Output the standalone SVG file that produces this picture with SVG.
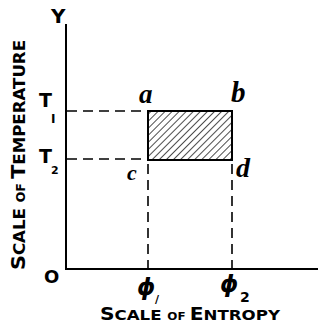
<svg xmlns="http://www.w3.org/2000/svg" width="321" height="324" viewBox="0 0 321 324">
<style>
.ax{stroke:#000;stroke-width:2;fill:none}
.ds{stroke:#000;stroke-width:1.6;fill:none;stroke-dasharray:10,6}
.lb{font-family:"DejaVu Sans","Liberation Sans",sans-serif;font-weight:bold;fill:#000}
.it{font-family:"Liberation Serif",serif;font-style:italic;font-weight:bold;fill:#000}
.ph{font-family:"DejaVu Sans",sans-serif;font-style:oblique;font-weight:bold;fill:#000}
</style>
<defs>
<pattern id="hatch" patternUnits="userSpaceOnUse" width="5" height="5" patternTransform="rotate(45)">
<line x1="0" y1="0" x2="0" y2="5" stroke="#000" stroke-width="1.4"/>
</pattern>
</defs>
<g id="connectors">
<line class="ax" x1="66" y1="24" x2="66" y2="270"/>
<line class="ax" x1="65" y1="269" x2="318" y2="269"/>
<line class="ds" x1="67" y1="111" x2="148" y2="111"/>
<line class="ds" x1="67" y1="159" x2="148" y2="159" stroke-dasharray="10,6,10,6,10,6,10,5,3,5"/>
<line class="ds" x1="148" y1="164" x2="148" y2="268"/>
<line class="ds" x1="232" y1="164" x2="232" y2="268"/>
</g>
<g id="rect">
<rect x="148" y="111" width="84" height="49" fill="url(#hatch)" stroke="#000" stroke-width="2"/>
</g>
<g id="labels">
<text class="lb" x="51" y="23" font-size="20">Y</text>
<text class="lb" x="39" y="107" font-size="19">T</text>
<text class="lb" x="51" y="123" font-size="12">I</text>
<text class="lb" x="39" y="163" font-size="19">T</text>
<text class="lb" x="51" y="174" font-size="11">2</text>
<text class="lb" x="44" y="283" font-size="18">O</text>
<text class="it" x="139" y="103" font-size="27">a</text>
<text class="it" x="231" y="102" font-size="29">b</text>
<text class="it" x="127" y="180" font-size="22">c</text>
<text class="it" x="236" y="177" font-size="28">d</text>
<text class="ph" x="137" y="295" font-size="23">ϕ</text>
<text class="lb" x="155" y="303" font-size="11">/</text>
<text class="ph" x="220" y="292" font-size="23">ϕ</text>
<text class="lb" x="240" y="302" font-size="14">2</text>
<text class="lb" x="100" y="320" font-size="17" textLength="180" lengthAdjust="spacingAndGlyphs">S<tspan font-size="14">CALE </tspan><tspan font-size="10">OF </tspan>E<tspan font-size="14">NTROPY</tspan></text>
<text class="lb" transform="translate(25,270) rotate(-90)" font-size="20" textLength="230" lengthAdjust="spacingAndGlyphs">S<tspan font-size="16">CALE </tspan><tspan font-size="12">OF </tspan>T<tspan font-size="16">EMPERATURE</tspan></text>
</g>
</svg>
